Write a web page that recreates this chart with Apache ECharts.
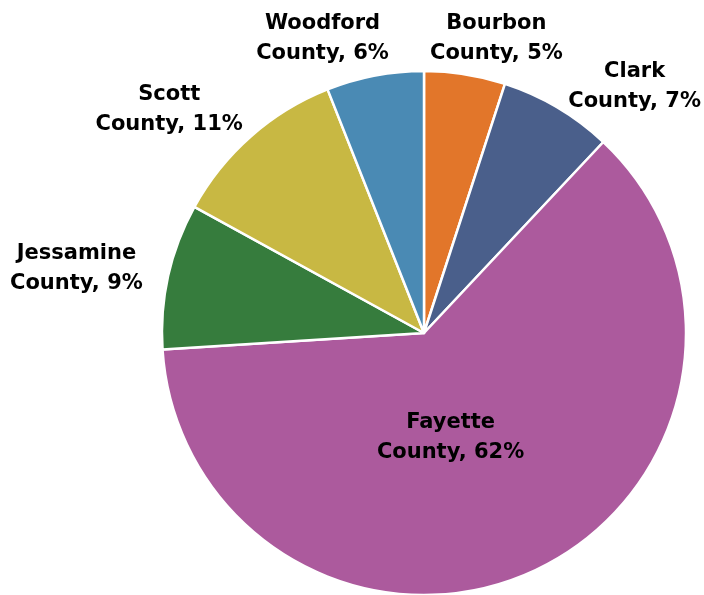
<!DOCTYPE html>
<html>
<head>
<meta charset="utf-8">
<script src="https://cdn.jsdelivr.net/npm/echarts@6/dist/echarts.min.js"></script>
<style>html,body{margin:0;padding:0;background:#fff;}#c{width:704px;height:595px;}</style>
</head>
<body>
<div id="c"></div>
<script>
const categories = ['Bourbon County', 'Clark County', 'Fayette County', 'Jessamine County', 'Scott County', 'Woodford County'];
const values = [5, 7, 62, 9, 11, 6];
const colors = ['#E2762A', '#4A5F8B', '#AC5A9D', '#367C3D', '#C8B843', '#4A8AB4'];
// label placement: [angle from 12 o'clock clockwise (deg), distance from centre (px)]
const labelPlacement = [[13.8, 303.5], [40.5, 324.3], [165.7, 107.6], [-79.5, 353.5], [-48.7, 339.2], [-19, 311.7]];

const CX = 424, CY = 333, R = 262;
const chart = echarts.init(document.getElementById('c'));
chart.setOption({
  animation: false,
  series: [{
    type: 'pie',
    center: [CX, CY],
    radius: R,
    startAngle: 90,
    clockwise: true,
    avoidLabelOverlap: false,
    itemStyle: { borderColor: '#fff', borderWidth: 2.5 },
    label: {
      show: true,
      position: 'outside',
      formatter: p => { const parts = p.name.split(' '); return parts[0] + '\n' + parts[1] + ', ' + p.value + '%'; },
      fontFamily: 'DejaVu Sans',
      fontWeight: 'bold',
      fontSize: 21,
      lineHeight: 30,
      color: '#000',
      align: 'center'
    },
    labelLine: { show: false },
    labelLayout: params => {
      const lp = labelPlacement[params.dataIndex];
      const a = lp[0] * Math.PI / 180;
      return {
        x: CX + lp[1] * Math.sin(a),
        y: CY - lp[1] * Math.cos(a),
        align: 'center',
        verticalAlign: 'middle'
      };
    },
    emphasis: { disabled: true },
    data: categories.map((c, i) => ({ name: c, value: values[i], itemStyle: { color: colors[i] } }))
  }]
});
</script>
</body>
</html>
